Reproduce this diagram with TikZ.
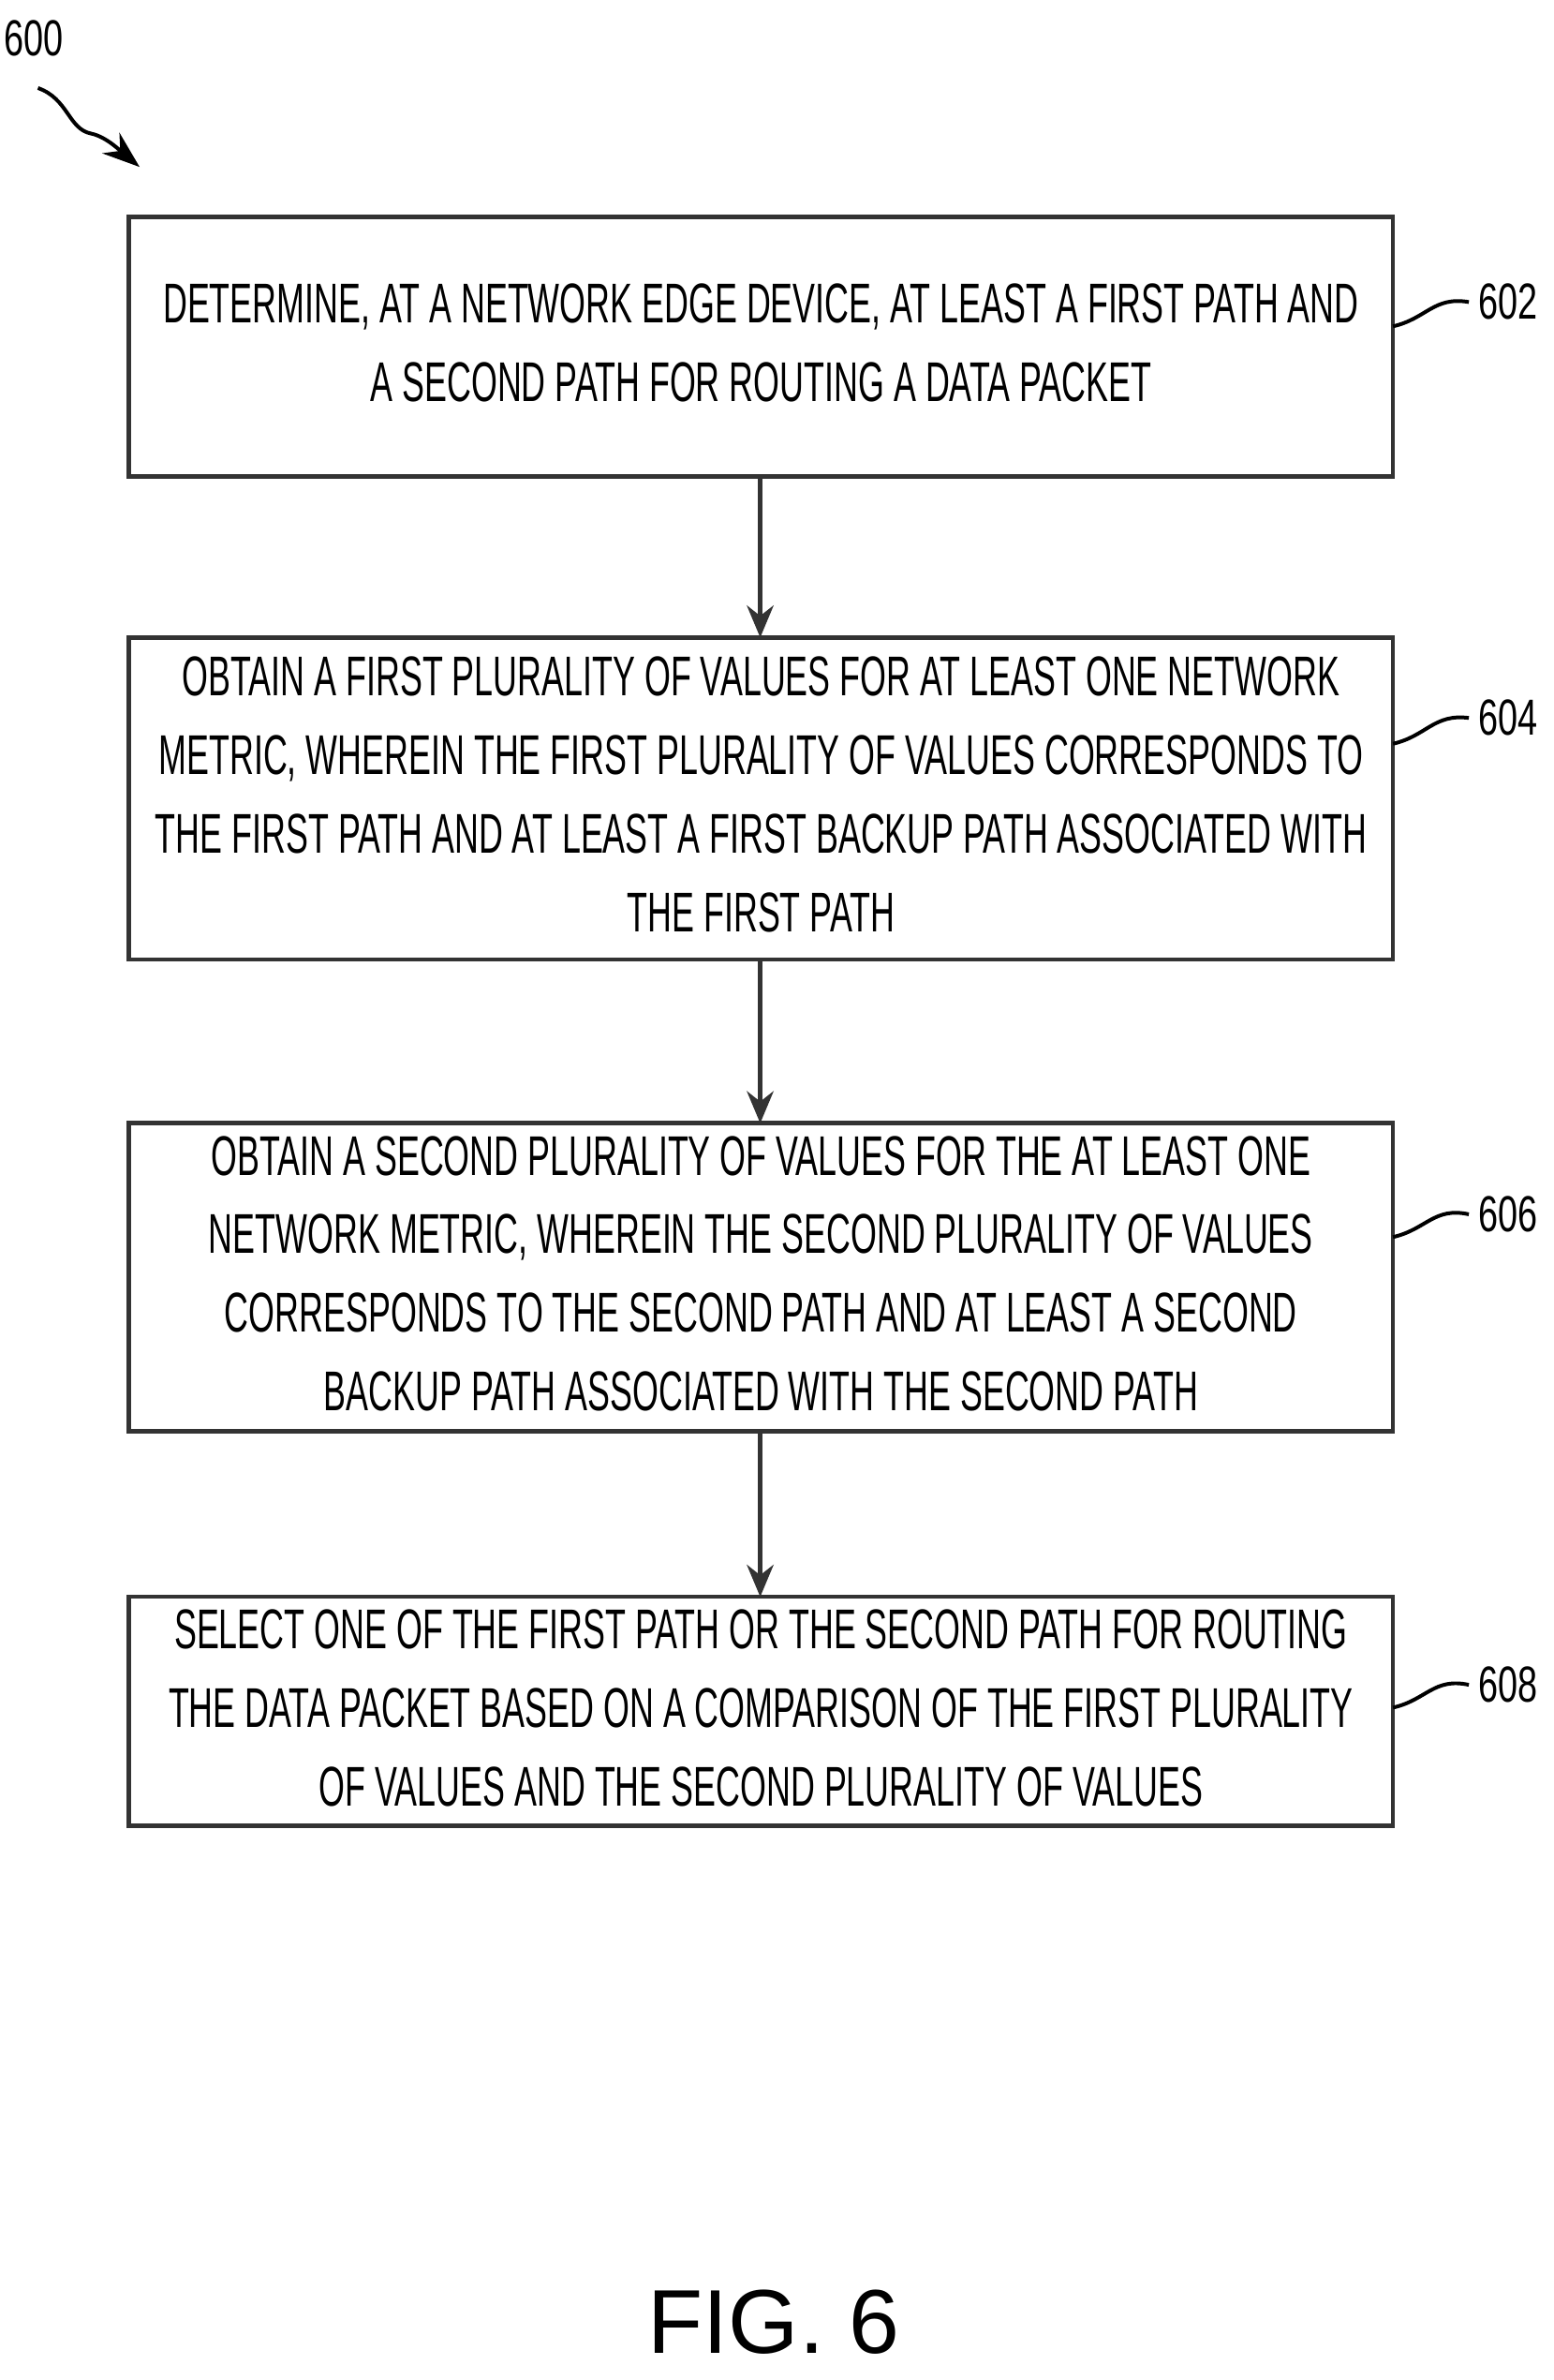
\documentclass[tikz,border=0pt]{standalone}
\usepackage{fontspec}
\setmainfont{Liberation Sans}
\usepackage{graphicx}
\usetikzlibrary{arrows.meta}
\newcommand{\bxt}[1]{\scalebox{0.6}[1]{\fontsize{21}{29.5}\selectfont\begin{tabular}{@{}c@{}}#1\end{tabular}}}
\begin{document}
\begin{tikzpicture}[x=0.02cm,y=-0.02cm,
  box/.style={draw=black!80,line width=1.6pt,inner sep=0pt},
  arr/.style={draw=black!80,line width=1.6pt,-{Stealth[length=12pt,width=10pt]}},
  lead/.style={line width=1.4pt},
  lab/.style={font=\scalebox{0.7}[1]{}\fontsize{19}{22}\selectfont,anchor=west}]
\useasboundingbox (0,0) rectangle (1024,1568);
\path[box] (85,143) rectangle (918,314) node[midway,draw=none](b1){\bxt{DETERMINE, AT A NETWORK EDGE DEVICE, AT LEAST A FIRST PATH AND\\A SECOND PATH FOR ROUTING A DATA PACKET}};
\path[box] (85,420) rectangle (918,632) node[midway,draw=none](b2){\bxt{OBTAIN A FIRST PLURALITY OF VALUES FOR AT LEAST ONE NETWORK\\METRIC, WHEREIN THE FIRST PLURALITY OF VALUES CORRESPONDS TO\\THE FIRST PATH AND AT LEAST A FIRST BACKUP PATH ASSOCIATED WITH\\THE FIRST PATH}};
\path[box] (85,740) rectangle (918,943) node[midway,draw=none](b3){\bxt{OBTAIN A SECOND PLURALITY OF VALUES FOR THE AT LEAST ONE\\NETWORK METRIC, WHEREIN THE SECOND PLURALITY OF VALUES\\CORRESPONDS TO THE SECOND PATH AND AT LEAST A SECOND\\BACKUP PATH ASSOCIATED WITH THE SECOND PATH}};
\path[box] (85,1052) rectangle (918,1203) node[midway,draw=none](b4){\bxt{SELECT ONE OF THE FIRST PATH OR THE SECOND PATH FOR ROUTING\\THE DATA PACKET BASED ON A COMPARISON OF THE FIRST PLURALITY\\OF VALUES AND THE SECOND PLURALITY OF VALUES}};
\coordinate (t1) at (501,314); \coordinate (h2) at (501,420);
\coordinate (t2) at (501,632); \coordinate (h3) at (501,740);
\coordinate (t3) at (501,943); \coordinate (h4) at (501,1052);
\draw[arr] (t1) -- (h2);
\draw[arr] (t2) -- (h3);
\draw[arr] (t3) -- (h4);
\node[lab] (l602) at (968,199) {\scalebox{0.7}[1]{602}};
\node[lab] (l604) at (968,473) {\scalebox{0.7}[1]{604}};
\node[lab] (l606) at (968,800) {\scalebox{0.7}[1]{606}};
\node[lab] (l608) at (968,1110) {\scalebox{0.7}[1]{608}};
\draw[lead] (918,215) .. controls (940,210) and (945,195) .. (l602.west);
\draw[lead] (918,490) .. controls (940,485) and (945,470) .. (l604.west);
\draw[lead] (918,815) .. controls (940,810) and (945,795) .. (l606.west);
\draw[lead] (918,1125) .. controls (940,1120) and (945,1105) .. (l608.west);
\node (n600) at (22,25) {\scalebox{0.7}[1]{\fontsize{19}{22}\selectfont 600}};
\coordinate (a600) at (92,110);
\draw[lead,-{Stealth[length=14pt,width=10pt]}] (25,58) .. controls (45,65) and (45,85) .. (60,88) .. controls (70,90) and (80,100) .. (a600);
\node (fig) at (510,1530) {\fontsize{34}{40}\selectfont FIG. 6};
\end{tikzpicture}
\end{document}
